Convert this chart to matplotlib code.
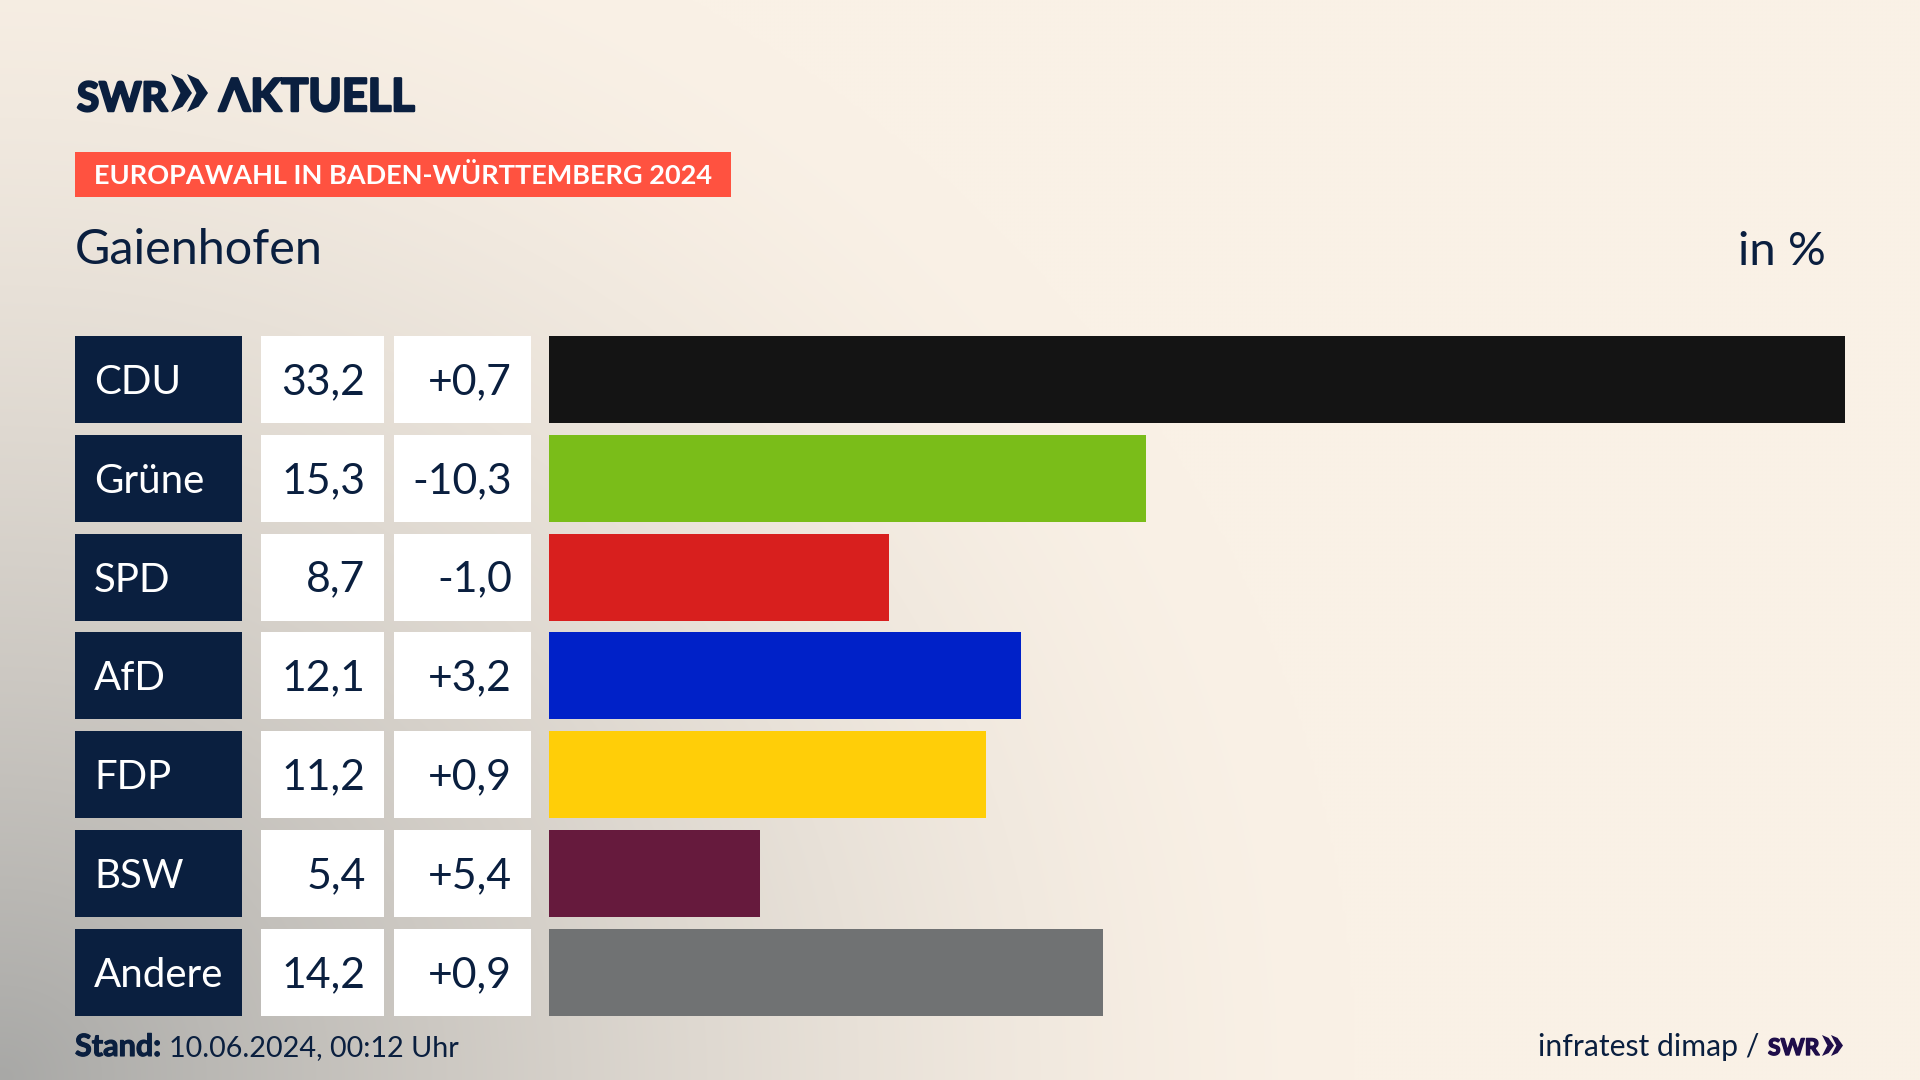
#!/usr/bin/env python3
"""Europawahl result graphic for Gaienhofen, SWR Aktuell style."""
import numpy as np
import matplotlib
matplotlib.use('Agg')
import matplotlib.pyplot as plt
import matplotlib.patheffects as pe
from matplotlib.patches import Polygon, Rectangle

parties = ['CDU', 'Grüne', 'SPD', 'AfD', 'FDP', 'BSW', 'Andere']
shares = [33.2, 15.3, 8.7, 12.1, 11.2, 5.4, 14.2]
changes = [0.7, -10.3, -1.0, 3.2, 0.9, 5.4, 0.9]
colors = ['#141414', '#7ABD19', '#D81F1E', '#0021C8', '#FFCE08', '#661A3D', '#707273']

NAVY = '#0A1F3F'
FONT = ['Lato', 'Noto Sans']
W, H = 1920, 1080
ROW0, PITCH, ROW_H = 379.5, 98.83, 87.0


def comma(v, signed=False):
    s = f'{v:+.1f}' if signed else f'{v:.1f}'
    return s.replace('.', ',')


def chevrons(ax, x, top, bottom, width, gap, color):
    # the two ">>" of the SWR logo
    mid = (top + bottom) / 2
    thick = width * 0.55
    for x0 in (x, x + gap):
        ax.add_patch(Polygon([(x0, top), (x0 + thick, top + (bottom - top) * 0.14),
                              (x0 + width, mid), (x0 + thick, bottom - (bottom - top) * 0.14),
                              (x0, bottom), (x0 + width - thick, mid)],
                             closed=True, color=color, lw=0))


def heavy(color, lw):
    # Lato's heaviest cut is still lighter than the logo lettering
    return [pe.withStroke(linewidth=lw, foreground=color)]


fig = plt.figure(figsize=(19.2, 10.8), dpi=100)

# --- background and everything placed in pixels ---
ax = fig.add_axes([0, 0, 1, 1])
ax.set_xlim(0, W)
ax.set_ylim(H, 0)
ax.axis('off')

xx, yy = np.meshgrid(np.linspace(0, W, 480), np.linspace(0, H, 270))
d = np.sqrt((xx / 1350) ** 2 + ((H - yy) / 1250) ** 2)
t = np.clip(1 - d, 0, 1) ** 1.5
cream = np.array([250, 241, 230]) / 255
grey = np.array([168, 168, 166]) / 255
bg = cream + (grey - cream) * t[..., None]
ax.imshow(bg, extent=(0, W, H, 0), aspect='auto', interpolation='bicubic', zorder=0)

# --- header ---
ax.text(77, 111, 'SWR', family=FONT, weight='bold', fontsize=29, color=NAVY, va='baseline',
        path_effects=heavy(NAVY, 1.8))
chevrons(ax, 171, 74, 112, 21, 16, NAVY)
ax.text(219, 111, 'ΛKTUELL', family=FONT, weight='bold', fontsize=32.5, color=NAVY, va='baseline',
        path_effects=heavy(NAVY, 1.8))

ax.add_patch(Rectangle((75, 152), 656, 45, color='#FF5240', lw=0))
ax.text(94, 184, 'EUROPAWAHL IN BADEN-WÜRTTEMBERG 2024', family=FONT, weight='bold',
        fontsize=19.5, color='white', va='baseline')

ax.text(75, 264, 'Gaienhofen', family=FONT, fontsize=34.9, color=NAVY, va='baseline')
ax.text(1826, 265, 'in %', family=FONT, fontsize=34, color=NAVY, ha='right', va='baseline')

# --- table cells ---
for i, (name, share, change) in enumerate(zip(parties, shares, changes)):
    cy = ROW0 + i * PITCH
    top = cy - ROW_H / 2
    base = cy + 14.5
    ax.add_patch(Rectangle((75, top), 167, ROW_H, color=NAVY, lw=0))
    ax.add_patch(Rectangle((261, top), 123, ROW_H, color='white', lw=0))
    ax.add_patch(Rectangle((394, top), 137, ROW_H, color='white', lw=0))
    ax.text(94, base, name, family=FONT, fontsize=29, color='white', va='baseline')
    ax.text(365.5, base, comma(share), family=FONT, fontsize=30.8, color=NAVY,
            ha='right', va='baseline')
    ax.text(512, base, comma(change, signed=True), family=FONT, fontsize=30.8, color=NAVY,
            ha='right', va='baseline')

# --- footer ---
ax.text(75, 1056, 'Stand:', family=FONT, weight='bold', fontsize=22, color=NAVY, va='baseline',
        path_effects=heavy(NAVY, 0.8))
ax.text(169, 1056, '10.06.2024, 00:12 Uhr', family=FONT, fontsize=20.7, color=NAVY, va='baseline')
ax.text(1759, 1056, 'infratest dimap /', family=FONT, fontsize=21.7, color=NAVY,
        ha='right', va='baseline')
ax.text(1768, 1055, 'SWR', family=FONT, weight='bold', fontsize=16.5, color='#1F0E4A',
        va='baseline', path_effects=heavy('#1F0E4A', 1.0))
chevrons(ax, 1822, 1035, 1056, 12, 9, '#1F0E4A')

# --- bars ---
# axes spans exactly the seven rows, longest bar reaches the right edge
y_top = ROW0 - PITCH / 2
y_bottom = ROW0 + 6.5 * PITCH
bar_ax = fig.add_axes([549 / W, 1 - y_bottom / H, (1845 - 549) / W, (y_bottom - y_top) / H])
bar_ax.barh(range(len(parties)), shares, height=ROW_H / PITCH, color=colors)
bar_ax.set_xlim(0, max(shares))
bar_ax.set_ylim(6.5, -0.5)
bar_ax.axis('off')

fig.savefig('out.png', dpi=100)
